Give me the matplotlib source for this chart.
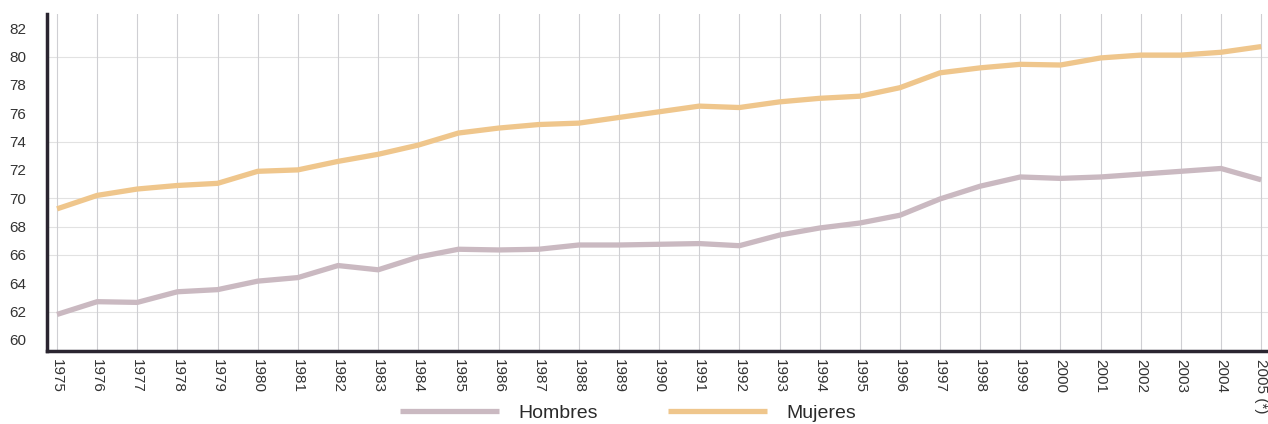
import matplotlib
matplotlib.use("Agg")
import matplotlib.pyplot as plt

plt.rcParams['font.family'] = ['Liberation Sans', 'DejaVu Sans']

years = list(range(1975, 2006))
year_labels = [str(y) for y in years[:-1]] + ["2005 (*)"]
hombres = [61.8, 62.7, 62.65, 63.4, 63.55, 64.15, 64.4, 65.25, 64.95, 65.85, 66.4, 66.35, 66.4,
           66.7, 66.7, 66.75, 66.8, 66.65, 67.4, 67.9, 68.25, 68.8, 69.95, 70.85, 71.5, 71.4,
           71.5, 71.7, 71.9, 72.1, 71.3]
mujeres = [69.25, 70.2, 70.65, 70.9, 71.05, 71.9, 72.0, 72.6, 73.1, 73.75, 74.6, 74.95, 75.2,
           75.3, 75.7, 76.1, 76.5, 76.4, 76.8, 77.05, 77.2, 77.8, 78.85, 79.2, 79.45, 79.4,
           79.9, 80.1, 80.1, 80.3, 80.7]
y_ticks = list(range(60, 83, 2))
h_grid = [80, 74, 70, 68, 66, 62]

fig = plt.figure(figsize=(12.68, 4.24), dpi=100)
ax = fig.add_axes([47/1268, 1 - 351/424, (1268 - 47)/1268, (351 - 14)/424])

for g in h_grid:
    ax.axhline(g, color="#e2e2e2", lw=0.8, zorder=0)
for y in years:
    ax.axvline(y, color="#cfcfd3", lw=0.8, zorder=0)

ax.plot(years, hombres, color="#cab9c1", lw=3.8, solid_capstyle="butt", label="Hombres", zorder=3)
ax.plot(years, mujeres, color="#efc68c", lw=3.8, solid_capstyle="butt", label="Mujeres", zorder=3)

ax.set_xlim(1974.75, 2005.17)
ax.set_ylim(59.22, 83)
ax.set_yticks(y_ticks)
ax.set_yticklabels([str(v) for v in y_ticks], fontsize=11, color="#333333")
ax.set_xticks(years)
ax.set_xticklabels(year_labels, rotation=270, fontsize=11, color="#333333", va="top", ha="center")
ax.tick_params(axis="both", length=0)
ax.tick_params(axis="x", pad=6)
ax.tick_params(axis="y", pad=15)

for s in ["top", "right"]:
    ax.spines[s].set_visible(False)
ax.spines["left"].set_color("#2a2530")
ax.spines["left"].set_linewidth(2.5)
ax.spines["bottom"].set_color("#2a2530")
ax.spines["bottom"].set_linewidth(2.5)

handles, labels = ax.get_legend_handles_labels()
leg = fig.legend(handles, labels, loc="center", bbox_to_anchor=(628/1268, 1 - 413/424), ncol=2,
                 frameon=False, fontsize=14, handlelength=5.1, handletextpad=1.0, columnspacing=3.6)
for t in leg.get_texts():
    t.set_color("#2a2a2a")

fig.savefig("out.png", dpi=100, facecolor="white")
